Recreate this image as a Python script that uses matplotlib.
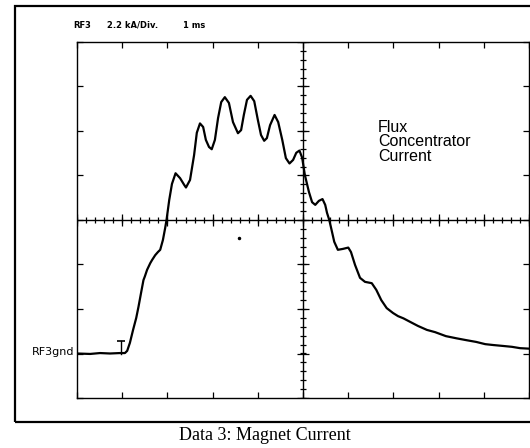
import numpy as np
import matplotlib
matplotlib.use("Agg")
import matplotlib.pyplot as plt
from matplotlib.patches import Rectangle

# trace, in divisions (x: 0..10, y: -4..4 around centre)
time_div = [0.00, 0.29, 0.51, 0.73, 0.95, 1.06, 1.11, 1.17, 1.24, 1.31, 1.36, 1.42,
            1.47, 1.50, 1.55, 1.62, 1.66, 1.73, 1.79, 1.84, 1.90, 1.95, 1.98, 2.04,
            2.10, 2.18, 2.28, 2.37, 2.41, 2.50, 2.59, 2.65, 2.72, 2.79, 2.85, 2.92,
            2.98, 3.05, 3.12, 3.19, 3.27, 3.36, 3.45, 3.56, 3.63, 3.69, 3.76, 3.84,
            3.92, 4.00, 4.07, 4.14, 4.20, 4.27, 4.37, 4.45, 4.54, 4.62, 4.70, 4.78,
            4.85, 4.92, 4.98, 5.04, 5.13, 5.20, 5.27, 5.35, 5.43, 5.49, 5.53, 5.58,
            5.63, 5.69, 5.77, 5.88, 6.00, 6.06, 6.15, 6.26, 6.37, 6.52, 6.62, 6.73,
            6.85, 6.99, 7.10, 7.22, 7.37, 7.54, 7.74, 7.92, 8.16, 8.40, 8.61, 8.83,
            9.03, 9.21, 9.42, 9.62, 9.80, 9.98]
current_div = [-3.00, -3.01, -2.99, -3.00, -2.99, -2.99, -2.94, -2.76, -2.47, -2.20, -1.95, -1.62,
               -1.35, -1.27, -1.12, -0.97, -0.90, -0.79, -0.72, -0.67, -0.45, -0.18, 0.00, 0.45,
               0.81, 1.05, 0.94, 0.79, 0.73, 0.90, 1.46, 1.96, 2.17, 2.09, 1.80, 1.64,
               1.59, 1.80, 2.29, 2.65, 2.76, 2.63, 2.20, 1.95, 2.02, 2.36, 2.70, 2.79,
               2.67, 2.25, 1.91, 1.78, 1.84, 2.13, 2.36, 2.20, 1.80, 1.39, 1.27, 1.35,
               1.51, 1.56, 1.40, 1.01, 0.63, 0.40, 0.34, 0.43, 0.47, 0.34, 0.16, 0.00,
               -0.22, -0.49, -0.67, -0.65, -0.62, -0.72, -1.01, -1.30, -1.39, -1.42, -1.57, -1.80,
               -1.98, -2.09, -2.16, -2.21, -2.29, -2.38, -2.47, -2.52, -2.61, -2.66, -2.70, -2.74,
               -2.79, -2.81, -2.83, -2.85, -2.88, -2.89]

n_xdiv = 10
n_ydiv = 4
ground_div = -3.0
cursor_x = 0.97
cursor_top = -2.72
stray_dot = (3.58, -0.40)

fig = plt.figure(figsize=(5.3, 4.48), dpi=100)

# outer scanned frame
fig.patches.append(Rectangle((0.029, 0.058), 0.98, 0.928, transform=fig.transFigure,
                             fill=False, lw=1.6, ec="black"))

ax = fig.add_axes([0.1453, 0.1116, 0.853, 0.7947])
ax.set_xlim(0, n_xdiv)
ax.set_ylim(-n_ydiv, n_ydiv)
for s in ax.spines.values():
    s.set_linewidth(1.0)
ax.set_xticks(np.arange(0, n_xdiv + 1))
ax.set_yticks(np.arange(-n_ydiv, n_ydiv + 1))
ax.tick_params(direction="in", length=4, width=0.9, top=True, right=True,
               labelbottom=False, labelleft=False)

# centre graticule with minor marks
ax.axhline(0, color="black", lw=1.0)
ax.axvline(n_xdiv / 2, color="black", lw=1.0)
xs = np.arange(0, n_xdiv + 0.01, 0.2)
ys = np.arange(-n_ydiv, n_ydiv + 0.01, 0.2)
ax.plot(xs, np.zeros_like(xs), ls="", marker="|", ms=4, mew=0.9, color="black")
ax.plot(np.full_like(ys, n_xdiv / 2), ys, ls="", marker="_", ms=4, mew=0.9, color="black")
ax.plot(np.arange(0, n_xdiv + 1), np.zeros(n_xdiv + 1), ls="", marker="|", ms=8, mew=0.9, color="black")
ax.plot(np.full(2 * n_ydiv + 1, n_xdiv / 2), np.arange(-n_ydiv, n_ydiv + 1), ls="", marker="_",
        ms=9, mew=0.9, color="black")

# trace
ax.plot(time_div, current_div, color="black", lw=1.6, solid_joinstyle="round")

# trigger cursor and a speck from the scan
ax.plot([cursor_x, cursor_x], [ground_div, cursor_top], color="black", lw=1.0)
ax.plot([cursor_x], [cursor_top], marker="_", ms=6, mew=1.2, color="black")
ax.plot([stray_dot[0]], [stray_dot[1]], marker="o", ms=1.5, color="black")

ax.text(6.66, 2.25, "Flux\nConcentrator\nCurrent", fontsize=11.5, va="top", ha="left",
        linespacing=0.95, family="Liberation Sans")

hdr = dict(fontsize=6, va="center", ha="left", family="DejaVu Sans", fontweight="bold")
fig.text(0.138, 0.944, "RF3", **hdr)
fig.text(0.202, 0.944, "2.2 kA/Div.", **hdr)
fig.text(0.345, 0.944, "1 ms", **hdr)
fig.text(0.140, 0.215, "RF3gnd", fontsize=8, va="center", ha="right", family="DejaVu Sans")
fig.text(0.5, 0.029, "Data 3: Magnet Current", fontsize=13, va="center", ha="center",
         family="Liberation Serif")

fig.savefig("out.png", dpi=100)
